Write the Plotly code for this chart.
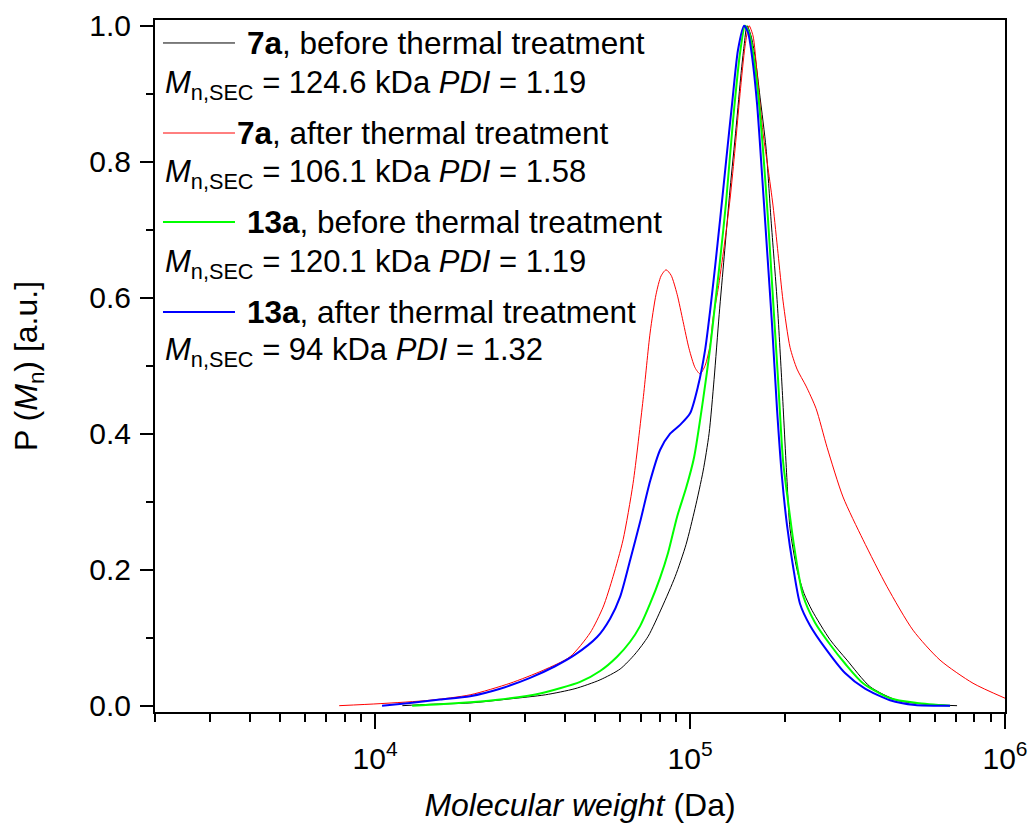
import numpy as np
import plotly.graph_objects as go

# SEC molecular weight distributions: M in Da, normalised P(Mn)
black_M = [12200, 14900, 20000, 26800, 34700, 43100, 51800, 60000, 66900, 73600,
           81500, 89700, 97100, 103700, 110000, 114900, 119200, 123700, 128300,
           134000, 140000, 145200, 148400, 151700, 156200, 160800, 166800, 174300,
           180800, 188900, 195900, 203200, 207700, 218600, 230100, 244000, 278300,
           315000, 372800, 454200, 565500, 704300]
black_P = [0.0, 0.002, 0.004, 0.010, 0.016, 0.025, 0.038, 0.054, 0.076, 0.102,
           0.145, 0.19, 0.237, 0.29, 0.345, 0.40, 0.48, 0.575, 0.66,
           0.76, 0.85, 0.93, 0.97, 1.0, 0.985, 0.955, 0.895, 0.82,
           0.714, 0.597, 0.47, 0.33, 0.26, 0.2, 0.165, 0.14, 0.097,
           0.067, 0.028, 0.008, 0.002, 0.0]

red_M = [7690, 10370, 14950, 20030, 26830, 34150, 41590, 48140, 52950, 56960,
         61280, 65920, 70920, 74650, 77990, 80900, 83910, 87040, 90960, 95020,
         99270, 103730, 107570, 111600, 115730, 118300, 122690, 128250, 133970,
         139020, 144130, 149490, 153920, 158490, 163200, 170500, 176880, 183440,
         190270, 197350, 207700, 218600, 233500, 251190, 272260, 305950, 354200,
         422100, 510500, 621900, 791500, 1000000]
red_P = [0.0, 0.003, 0.008, 0.016, 0.033, 0.052, 0.072, 0.107, 0.145, 0.19,
         0.244, 0.327, 0.45, 0.548, 0.605, 0.632, 0.641, 0.633, 0.605, 0.565,
         0.525, 0.497, 0.488, 0.50, 0.53, 0.57, 0.612, 0.675, 0.745,
         0.82, 0.9, 0.97, 1.0, 0.985, 0.93, 0.842, 0.79, 0.735,
         0.665, 0.595, 0.527, 0.495, 0.47, 0.437, 0.38, 0.307, 0.244,
         0.175, 0.111, 0.067, 0.033, 0.011]

green_M = [13110, 16080, 20030, 24940, 33410, 44760, 51800, 58650, 64510, 69390,
           74650, 80300, 85160, 90960, 97120, 102960, 109980, 115730, 120040,
           124500, 130100, 136940, 144130, 149490, 153920, 158490, 164400, 170500,
           176880, 183440, 190270, 197350, 204700, 213900, 228400, 249400, 278300,
           310500, 354200, 431400, 525600, 669200]
green_P = [0.0, 0.002, 0.005, 0.009, 0.018, 0.035, 0.051, 0.072, 0.094, 0.117,
           0.15, 0.188, 0.225, 0.278, 0.32, 0.365, 0.45, 0.525, 0.59,
           0.655, 0.74, 0.861, 0.96, 1.0, 0.99, 0.96, 0.9, 0.817,
           0.714, 0.597, 0.48, 0.36, 0.30, 0.235, 0.162, 0.122, 0.09,
           0.062, 0.033, 0.011, 0.004, 0.0]

blue_M = [10520, 12910, 16080, 20030, 24940, 31050, 37270, 43140, 50680, 55720,
          59950, 64510, 69390, 74650, 80300, 86420, 92970, 100000, 106020, 111600,
          115730, 120040, 124500, 130100, 135940, 142050, 148400, 152800, 157330,
          163200, 169300, 175600, 182100, 188900, 195900, 203200, 212300, 223400,
          240400, 268300, 310500, 359400, 431400, 518000, 669200]
blue_P = [0.0, 0.004, 0.009, 0.014, 0.025, 0.041, 0.058, 0.075, 0.101, 0.128,
          0.16, 0.214, 0.27, 0.33, 0.376, 0.40, 0.413, 0.43, 0.47, 0.523,
          0.58, 0.645, 0.714, 0.8, 0.885, 0.965, 1.0, 0.99, 0.955,
          0.885, 0.78, 0.67, 0.56, 0.435, 0.335, 0.265, 0.205, 0.15,
          0.118, 0.085, 0.048, 0.025, 0.008, 0.001, 0.0]

series = [
    ("7a", "before", "124.6", "1.19", black_M, black_P, "#000000", 1.0),
    ("7a", "after", "106.1", "1.58", red_M, red_P, "#FF0000", 1.0),
    ("13a", "before", "120.1", "1.19", green_M, green_P, "#00FF00", 2.0),
    ("13a", "after", "94", "1.32", blue_M, blue_P, "#0000FF", 2.0),
]

x_ticks = [1e4, 1e5, 1e6]
x_ticktext = ["10<sup>4</sup>", "10<sup>5</sup>", "10<sup>6</sup>"]
x_minor = [m * 10 ** d for d in (3, 4, 5) for m in range(2, 10)]

FONT = "Arial, 'Liberation Sans', sans-serif"

fig = go.Figure()
for name, state, mn, pdi, xs, ys, color, width in series:
    fig.add_trace(go.Scatter(
        x=xs, y=ys, mode="lines", name=f"{name}, {state} thermal treatment",
        line=dict(color=color, width=width, shape="spline", smoothing=0.7),
        showlegend=False,
    ))

# hand-built legend: sample line + two text rows per series
row_y = [0.9668, 0.9060, 0.8367, 0.7773, 0.7081, 0.6473, 0.5780, 0.5201]
text_x = [0.1059, 0.0941, 0.1059, 0.1059]
for i, (name, state, mn, pdi, xs, ys, color, width) in enumerate(series):
    y1 = row_y[2 * i]
    y2 = row_y[2 * i + 1]
    fig.add_shape(type="line", xref="paper", yref="paper",
                  x0=0.0094, x1=0.0941, y0=y1, y1=y1,
                  line=dict(color=color, width=width))
    fig.add_annotation(xref="paper", yref="paper", x=text_x[i], y=y1,
                       xanchor="left", yanchor="middle", showarrow=False,
                       text=f"<b>{name}</b>, {state} thermal treatment",
                       font=dict(size=31.5, color="black", family=FONT))
    fig.add_annotation(xref="paper", yref="paper", x=0.0094, y=y2,
                       xanchor="left", yanchor="middle", showarrow=False,
                       text=f"<i>M</i><sub>n,SEC</sub> = {mn} kDa <i>PDI</i> = {pdi}",
                       font=dict(size=31, color="black", family=FONT))

fig.update_layout(
    width=1031, height=827,
    margin=dict(l=155, r=26, t=20, b=115),
    paper_bgcolor="white", plot_bgcolor="white",
    font=dict(family=FONT, size=30, color="black"),
    xaxis=dict(
        type="log", range=[np.log10(2000), 6], automargin=False,
        tickmode="array", tickvals=x_ticks, ticktext=x_ticktext,
        ticks="outside", ticklen=15, tickwidth=2, tickcolor="black",
        ticklabelstandoff=4,
        minor=dict(tickmode="array", tickvals=x_minor, ticks="outside",
                   ticklen=8, tickwidth=2, tickcolor="black"),
        showline=True, linewidth=2, linecolor="black", mirror=True,
        showgrid=False, zeroline=False,
        tickfont=dict(size=30),
        title=dict(text="<i>Molecular weight</i> (Da)", font=dict(size=32),
                   standoff=20),
    ),
    yaxis=dict(
        range=[-0.0093, 1.0084], tick0=0, dtick=0.2, tickformat=".1f",
        automargin=False,
        ticks="outside", ticklen=13, tickwidth=2, tickcolor="black",
        ticklabelstandoff=3,
        minor=dict(dtick=0.1, ticks="outside", ticklen=7, tickwidth=2,
                   tickcolor="black"),
        showline=True, linewidth=2, linecolor="black", mirror=True,
        showgrid=False, zeroline=False,
        tickfont=dict(size=30),
        title=dict(text="P (<i>M</i><sub>n</sub>) [a.u.]", font=dict(size=32),
                   standoff=42),
    ),
)

fig.write_html("out.html")
